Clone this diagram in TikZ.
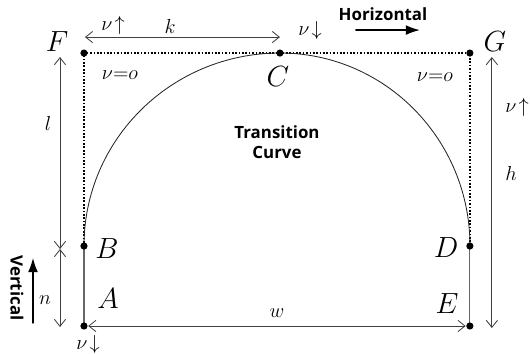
\documentclass[tikz,border=0pt]{standalone}
\usepackage{fontspec}
\setsansfont{Open Sans}
\usetikzlibrary{arrows.meta}

\begin{document}
\begin{tikzpicture}[scale=0.025, line join=round, line cap=round, >={Straight Barb[length=5pt,width=8pt]},
	pt/.style={font=\fontsize{21}{24}\selectfont},
	lbl/.style={font=\fontsize{15}{18}\selectfont},
	word/.style={font=\sffamily\bfseries\fontsize{12}{14}\selectfont, align=center},
	dim/.style={<->, black!75, line width=0.6pt},
	guide/.style={dash pattern=on 1.2pt off 1.2pt, line cap=butt, line width=1.4pt},
	dir/.style={-{Latex[length=10pt,width=7pt]}, line width=1pt}]
	\useasboundingbox (0,0) rectangle (530,354);
	% points
	\coordinate (F) at (84,301);
	\coordinate (C) at (280,301);
	\coordinate (G) at (470,301);
	\coordinate (B) at (84,108);
	\coordinate (D) at (470,108);
	\coordinate (A) at (84,28);
	\coordinate (E) at (470,28);
	% dimension ends
	\coordinate (l1) at (60,297);
	\coordinate (l2) at (60,105);
	\coordinate (l3) at (60,27);
	\coordinate (h1) at (492,297);
	\coordinate (h2) at (492,26);
	\coordinate (k1) at (85,317);
	\coordinate (k2) at (280,317);
	\coordinate (hz1) at (356,324);
	\coordinate (hz2) at (420,324);
	\coordinate (vt1) at (33,31);
	\coordinate (vt2) at (33,96);
	% guides and curve
	\draw[guide] (B) -- (F) -- (C) -- (G) -- (D);
	\draw[black!60, line width=0.8pt] (B) -- (A) (D) -- (E);
	\draw[black!85, line width=0.6pt] (B) arc (180:90:196 and 193) arc (90:0:190 and 193);
	\fill (F) circle (3.6) (C) circle (3.6) (G) circle (3.6) (B) circle (3.6)
		(D) circle (3.6) (A) circle (3.6) (E) circle (3.6);
	% dimensions
	\draw[dim] (l1) -- (l2);
	\draw[dim] (l2) -- (l3);
	\draw[dim] (h1) -- (h2);
	\draw[dim] (k1) -- (k2);
	\draw[dim, shorten <=3pt, shorten >=3pt] (A) -- (E);
	\draw[dir] (hz1) -- (hz2);
	\draw[dir] (vt1) -- (vt2);
	% labels
	\node[pt] (labF) at (57,312) {$F$};
	\node[pt] (labG) at (495,312) {$G$};
	\node[pt] (labC) at (278,277) {$C$};
	\node[pt] (labB) at (107,105) {$B$};
	\node[pt] (labA) at (108,55) {$A$};
	\node[pt] (labD) at (446,106) {$D$};
	\node[pt] (labE) at (447,50) {$E$};
	\node[lbl] (vk) at (113,329) {$\nu\!\uparrow$};
	\node[lbl] (k) at (170,328) {$k$};
	\node[lbl] (vc) at (310,324) {$\nu\!\downarrow$};
	\node[lbl] (vfz) at (120,279) {$\nu{=}o$};
	\node[lbl] (vgz) at (435,277) {$\nu{=}o$};
	\node[lbl] (vh) at (517,247) {$\nu\!\uparrow$};
	\node[lbl] (h) at (511,181) {$h$};
	\node[lbl] (l) at (48,231) {$l$};
	\node[lbl] (n) at (45,54) {$n$};
	\node[lbl] (w) at (277,41) {$w$};
	\node[lbl] (va) at (88,10) {$\nu\!\downarrow$};
	\node[word] (horiz) at (383,340) {Horizontal};
	\node[word, rotate=-90] (vert) at (17,66) {Vertical};
	\node[word] (trans) at (277,212) {Transition\\Curve};
\end{tikzpicture}
\end{document}
